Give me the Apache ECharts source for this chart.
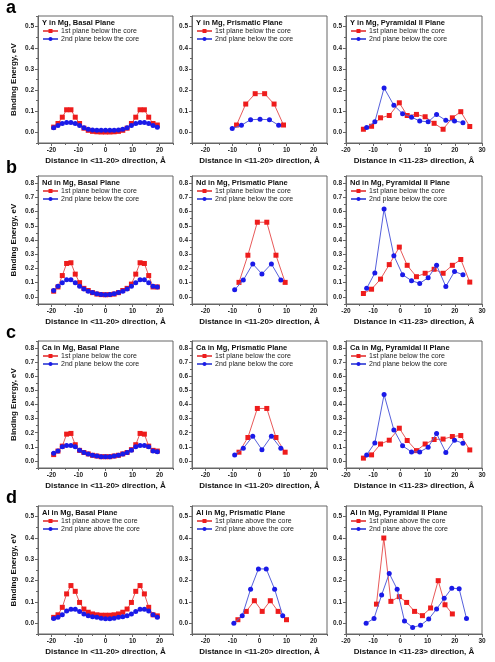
<!DOCTYPE html>
<html><head><meta charset="utf-8">
<script src="https://cdn.jsdelivr.net/npm/echarts@6/dist/echarts.min.js"></script>
<style>html,body{margin:0;padding:0;background:#fff}#c{width:495px;height:662px}</style>
</head><body><div id="c"></div>
<script>
// ---------- x positions (Å) ----------
const xBasal = [-19.2,-17.6,-16,-14.4,-12.8,-11.2,-9.6,-8,-6.4,-4.8,-3.2,-1.6,0,1.6,3.2,4.8,6.4,8,9.6,11.2,12.8,14.4,16,17.6,19.2];
const xPrismA1 = [-8.5,-5.1,-1.6,1.9,5.4,8.9];
const xPrismA2 = [-10.1,-6.7,-3.3,0.2,3.7,7.1];
const xPrismB1 = [-7.6,-4.3,-0.8,2.7,6.1,9.5];
const xPrismB2 = [-9.2,-6.0,-2.5,0.9,4.4,7.9];
const xPrismD1 = [-8.0,-4.9,-1.9,1.0,4.0,6.9,10.0];
const xPrismD2 = [-9.5,-6.4,-3.3,-0.4,2.5,5.6,8.6];
const xPyr1 = [-13.6,-10.6,-7.3,-4.1,-0.4,2.5,5.9,9.1,12.4,15.7,19.1,22.2,25.5];
const xPyr2 = [-12.4,-9.4,-6.0,-2.4,0.8,4.1,7.1,10.2,13.3,16.7,19.9,23.0];
const xPyrD1 = [-8.8,-6.1,-3.5,-0.4,2.3,5.2,8.1,11.1,13.9,16.4,19.1];
const xPyrD2 = [-12.6,-9.7,-6.9,-4.1,-1.2,1.5,4.5,7.4,10.4,13.3,16.1,18.9,21.6,24.3];

// ---------- binding energies (eV) ----------
const yBasal1 = [0.025,0.042,0.072,0.107,0.107,0.072,0.042,0.02,0.01,0.005,0.003,0.002,0.002,0.002,0.003,0.005,0.01,0.02,0.042,0.072,0.107,0.107,0.072,0.042,0.035];
const yBasal2 = [0.022,0.033,0.042,0.047,0.047,0.042,0.033,0.022,0.015,0.012,0.01,0.01,0.01,0.01,0.01,0.012,0.015,0.022,0.033,0.042,0.047,0.047,0.042,0.033,0.025];
const yPrism1 = [0.035,0.134,0.183,0.183,0.134,0.035];
const yPrism2 = [0.018,0.034,0.06,0.062,0.06,0.034];
const yPyr1 = [0.015,0.029,0.069,0.08,0.14,0.08,0.085,0.074,0.043,0.015,0.069,0.098,0.028];
const yPyr2 = [0.023,0.05,0.21,0.128,0.088,0.072,0.054,0.05,0.085,0.057,0.054,0.046];

const ndBasal1 = [0.04,0.07,0.15,0.235,0.24,0.16,0.1,0.06,0.045,0.03,0.02,0.016,0.015,0.016,0.02,0.03,0.045,0.06,0.09,0.16,0.24,0.235,0.15,0.07,0.07];
const ndBasal2 = [0.045,0.075,0.1,0.12,0.12,0.1,0.075,0.055,0.04,0.03,0.022,0.017,0.015,0.017,0.022,0.03,0.04,0.055,0.075,0.1,0.12,0.12,0.1,0.075,0.07];
const ndPrism1 = [0.102,0.293,0.525,0.525,0.293,0.102];
const ndPrism2 = [0.05,0.118,0.232,0.161,0.232,0.118];
const ndPyr1 = [0.024,0.054,0.125,0.227,0.35,0.222,0.142,0.166,0.194,0.166,0.222,0.263,0.104];
const ndPyr2 = [0.06,0.168,0.618,0.29,0.156,0.114,0.095,0.135,0.222,0.073,0.178,0.156];

const caBasal1 = [0.045,0.07,0.105,0.19,0.195,0.115,0.075,0.06,0.05,0.04,0.035,0.03,0.03,0.03,0.035,0.04,0.05,0.06,0.08,0.115,0.195,0.19,0.105,0.075,0.07];
const caBasal2 = [0.055,0.07,0.1,0.11,0.11,0.1,0.075,0.06,0.05,0.04,0.035,0.03,0.03,0.03,0.035,0.04,0.05,0.06,0.075,0.1,0.11,0.11,0.1,0.07,0.065];
const caPrism1 = [0.062,0.166,0.372,0.372,0.166,0.062];
const caPrism2 = [0.043,0.09,0.175,0.08,0.175,0.09];
const caPyr1 = [0.02,0.043,0.12,0.147,0.232,0.145,0.073,0.12,0.152,0.155,0.173,0.18,0.078];
const caPyr2 = [0.043,0.128,0.47,0.22,0.107,0.064,0.064,0.097,0.194,0.06,0.147,0.125];

const alBasal1 = [0.028,0.04,0.075,0.138,0.177,0.15,0.098,0.067,0.052,0.044,0.04,0.038,0.038,0.038,0.04,0.044,0.052,0.067,0.098,0.15,0.177,0.138,0.075,0.04,0.035];
const alBasal2 = [0.023,0.028,0.04,0.058,0.066,0.066,0.055,0.044,0.036,0.031,0.028,0.024,0.022,0.022,0.024,0.028,0.031,0.036,0.044,0.055,0.066,0.066,0.058,0.04,0.028];
const alPrism1 = [0.017,0.056,0.106,0.056,0.106,0.056,0.017];
const alPrism2 = [0.0,0.036,0.16,0.255,0.255,0.16,0.036];
const alPyr1 = [0.09,0.40,0.103,0.125,0.098,0.056,0.036,0.072,0.2,0.087,0.044];
const alPyr2 = [0.0,0.023,0.133,0.234,0.16,0.011,-0.019,-0.009,0.02,0.067,0.117,0.165,0.162,0.023];

// ---------- text ----------
const rowLetters = ['a','b','c','d'];
const elements = ['Y','Nd','Ca','Al'];
const planes = ['Basal Plane','Prismatic Plane','Pyramidal II Plane'];
const directions = ['<11-20>','<11-20>','<11-23>'];
const legendBelow = ['1st plane below the core','2nd plane below the core'];
const legendAbove = ['1st plane above the core','2nd plane above the core'];
const yTicksSmall = [0,0.1,0.2,0.3,0.4,0.5];
const yTicksLarge = [0,0.1,0.2,0.3,0.4,0.5,0.6,0.7,0.8];
const yMinorSmall = [-0.05,0.05,0.15,0.25,0.35,0.45,0.55];
const yMinorLarge = [-0.05,0.05,0.15,0.25,0.35,0.45,0.55,0.65,0.75,0.85];
const xTicks12 = [-20,-10,0,10,20];
const xTicks3 = [-20,-10,0,10,20,30];
const xMinor12 = [-25,-15,-5,5,15,25];
const xMinor3 = [-15,-5,5,15,25];

const panelData = [
  [[xBasal,yBasal1,xBasal,yBasal2],[xPrismA1,yPrism1,xPrismA2,yPrism2],[xPyr1,yPyr1,xPyr2,yPyr2]],
  [[xBasal,ndBasal1,xBasal,ndBasal2],[xPrismB1,ndPrism1,xPrismB2,ndPrism2],[xPyr1,ndPyr1,xPyr2,ndPyr2]],
  [[xBasal,caBasal1,xBasal,caBasal2],[xPrismB1,caPrism1,xPrismB2,caPrism2],[xPyr1,caPyr1,xPyr2,caPyr2]],
  [[xBasal,alBasal1,xBasal,alBasal2],[xPrismD1,alPrism1,xPrismD2,alPrism2],[xPyrD1,alPyr1,xPyrD2,alPyr2]]
];

// ---------- layout ----------
const colLeft = [38,192,346], colW = [135,135,136];
const rowTop = [16,176,341,506], rowH = [127,128,127,128];
const FONT = 'Liberation Sans, Arial, sans-serif';
const AX = '#666';
const RED = '#ee1c1c', REDL = '#e85a5a', BLUE = '#1a1ae8', BLUEL = '#5660dc';

const grid=[], xAxis=[], yAxis=[], series=[], legend=[], title=[];
const zip = (xs, ys) => xs.map((x,i)=>[x, ys[i]]);

for (let r=0;r<4;r++){
  const big = (r===1||r===2);
  const yMin = -0.05, yMax = big ? 0.85 : 0.55;
  const yT = big ? yTicksLarge : yTicksSmall;
  const yMinor = big ? yMinorLarge : yMinorSmall;
  title.push({text: rowLetters[r], left: 6, top: rowTop[r]-17, padding:0,
    textStyle:{fontFamily:FONT,fontSize:18,fontWeight:'bold',color:'#000'}});
  for (let c=0;c<3;c++){
    const g = grid.length;
    grid.push({left:colLeft[c], top:rowTop[r], width:colW[c], height:rowH[r],
      show:true, borderColor:AX, borderWidth:1, backgroundColor:'transparent'});
    const xMin = c===2 ? -20 : -25, xMax = c===2 ? 30 : 25;
    const xT = c===2 ? xTicks3 : xTicks12;
    const xMinor = c===2 ? xMinor3 : xMinor12;
    xAxis.push({type:'value', gridIndex:g, min:xMin, max:xMax, position:'bottom',
      name:'Distance in '+directions[c]+' direction, Å', nameLocation:'middle', nameGap:14,
      nameTextStyle:{fontFamily:FONT,fontSize:8,fontWeight:'bold',color:'#111'},
      axisLine:{show:true,onZero:false,lineStyle:{color:AX,width:1}},
      axisTick:{show:true,inside:false,length:3,customValues:xT,lineStyle:{color:AX}},
      axisLabel:{show:true,customValues:xT,fontFamily:FONT,fontSize:6.5,fontWeight:'bold',color:'#222',margin:4},
      splitLine:{show:false}});
    xAxis.push({type:'value', gridIndex:g, min:xMin, max:xMax, position:'bottom',
      axisLine:{show:false,onZero:false}, axisLabel:{show:false}, splitLine:{show:false},
      axisTick:{show:true,inside:false,length:2,customValues:xMinor,lineStyle:{color:AX}}});
    yAxis.push({type:'value', gridIndex:g, min:yMin, max:yMax, position:'left',
      name: c===0 ? 'Binding Energy, eV' : '', nameLocation:'middle', nameGap:20,
      nameTextStyle:{fontFamily:FONT,fontSize:8,fontWeight:'bold',color:'#111'},
      axisLine:{show:true,onZero:false,lineStyle:{color:AX,width:1}},
      axisTick:{show:true,inside:false,length:3,customValues:yT,lineStyle:{color:AX}},
      axisLabel:{show:true,customValues:yT,formatter:v=>v.toFixed(1),fontFamily:FONT,fontSize:6.5,fontWeight:'bold',color:'#222',margin:4},
      splitLine:{show:false}});
    yAxis.push({type:'value', gridIndex:g, min:yMin, max:yMax, position:'left',
      axisLine:{show:false,onZero:false}, axisLabel:{show:false}, splitLine:{show:false},
      axisTick:{show:true,inside:false,length:2,customValues:yMinor,lineStyle:{color:AX}}});
    const [x1,y1,x2,y2] = panelData[r][c];
    const leg = r===3 ? legendAbove : legendBelow;
    const n1 = rowLetters[r]+c+'|'+leg[0], n2 = rowLetters[r]+c+'|'+leg[1];
    series.push({type:'line', name:n1, xAxisIndex:2*g, yAxisIndex:2*g, data:zip(x1,y1),
      symbol:'rect', symbolSize:5, lineStyle:{color:REDL,width:1}, itemStyle:{color:RED},
      animation:false, z:2});
    series.push({type:'line', name:n2, xAxisIndex:2*g, yAxisIndex:2*g, data:zip(x2,y2),
      symbol:'circle', symbolSize:5, lineStyle:{color:BLUEL,width:1}, itemStyle:{color:BLUE},
      animation:false, z:3});
    title.push({text: elements[r]+' in Mg, '+planes[c], left: colLeft[c]+4, top: rowTop[r]+3, padding:0,
      textStyle:{fontFamily:FONT,fontSize:7.5,fontWeight:'bold',color:'#111'}});
    legend.push({data:[n1,n2], orient:'vertical', left:colLeft[c]+4, top:rowTop[r]+11,
      itemWidth:15, itemHeight:5, itemGap:0, padding:0, selectedMode:false,
      formatter: s => s.split('|')[1],
      textStyle:{fontFamily:FONT,fontSize:7,lineHeight:8,color:'#222',padding:[0,0,0,-2]}});
  }
}

const chart = echarts.init(document.getElementById('c'), null, {renderer:'canvas'});
chart.setOption({animation:false, backgroundColor:'#fff', title, grid, xAxis, yAxis, series, legend});
</script>
</body></html>
